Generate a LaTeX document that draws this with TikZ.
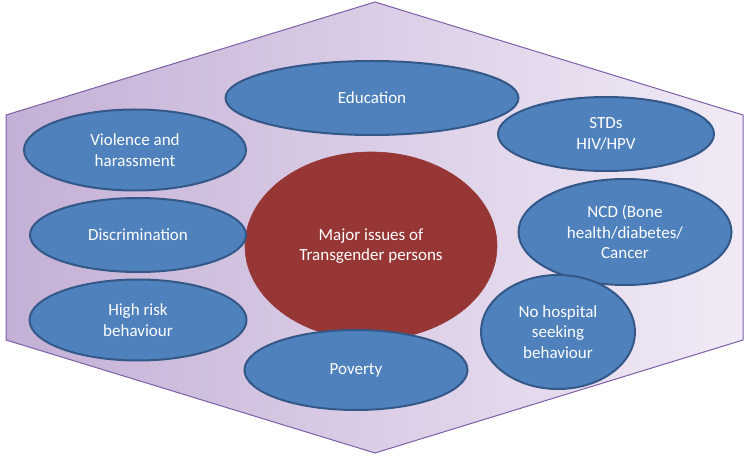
\documentclass[tikz,border=0pt]{standalone}
\usepackage{fontspec}
\setmainfont{Carlito}
\usetikzlibrary{shapes.geometric}
\definecolor{hexleft}{RGB}{196,176,214}
\definecolor{hexright}{RGB}{241,234,246}
\definecolor{hexborder}{RGB}{125,95,165}
\definecolor{bluefill}{RGB}{79,129,189}
\definecolor{blueborder}{RGB}{52,88,135}
\definecolor{redfill}{RGB}{150,55,53}
\tikzset{
  issue/.style={ellipse, draw=blueborder, line width=2pt, fill=bluefill,
    inner sep=0pt, text=white, align=center, font=\fontsize{17}{20.5}\selectfont},
  core/.style={ellipse, draw=redfill, line width=0.6pt, fill=redfill,
    inner sep=0pt, text=white, align=center, font=\fontsize{17}{20.5}\selectfont},
}
\begin{document}
\begin{tikzpicture}[x=1pt,y=-1pt]
\useasboundingbox (0,0) rectangle (750,462);
\coordinate (h1) at (375,2);
\coordinate (h2) at (743,115);
\coordinate (h3) at (743,340);
\coordinate (h4) at (375,453);
\coordinate (h5) at (6,340);
\coordinate (h6) at (6,115);
\shade[left color=hexleft, right color=hexright] (h1) -- (h2) -- (h3) -- (h4) -- (h5) -- (h6) -- cycle;
\draw[hexborder, line width=1pt, line join=miter] (h1) -- (h2) -- (h3) -- (h4) -- (h5) -- (h6) -- cycle;

\node[core, minimum width=252pt, minimum height=188pt] (core) at (371,246) {Major issues of\\Transgender persons};

\node[issue, minimum width=293pt, minimum height=74pt] (edu) at (372,98) {Education};
\node[issue, minimum width=222pt, minimum height=81pt] (vio) at (135,150) {Violence and\\harassment};
\node[issue, minimum width=216pt, minimum height=74pt] (dis) at (138,235) {Discrimination};
\node[issue, minimum width=217pt, minimum height=81pt] (risk) at (138,320) {High risk\\behaviour};
\node[issue, minimum width=223pt, minimum height=80pt] (pov) at (356,370) {Poverty};
\node[issue, minimum width=216pt, minimum height=74pt] (std) at (606,134) {STDs\\HIV/HPV};
\node[issue, minimum width=213pt, minimum height=106pt] (ncd) at (625,232) {NCD (Bone\\health/diabetes/\\Cancer};
\node[issue, minimum width=154pt, minimum height=114pt] (hosp) at (558,332) {No hospital\\seeking\\behaviour};
\end{tikzpicture}
\end{document}
